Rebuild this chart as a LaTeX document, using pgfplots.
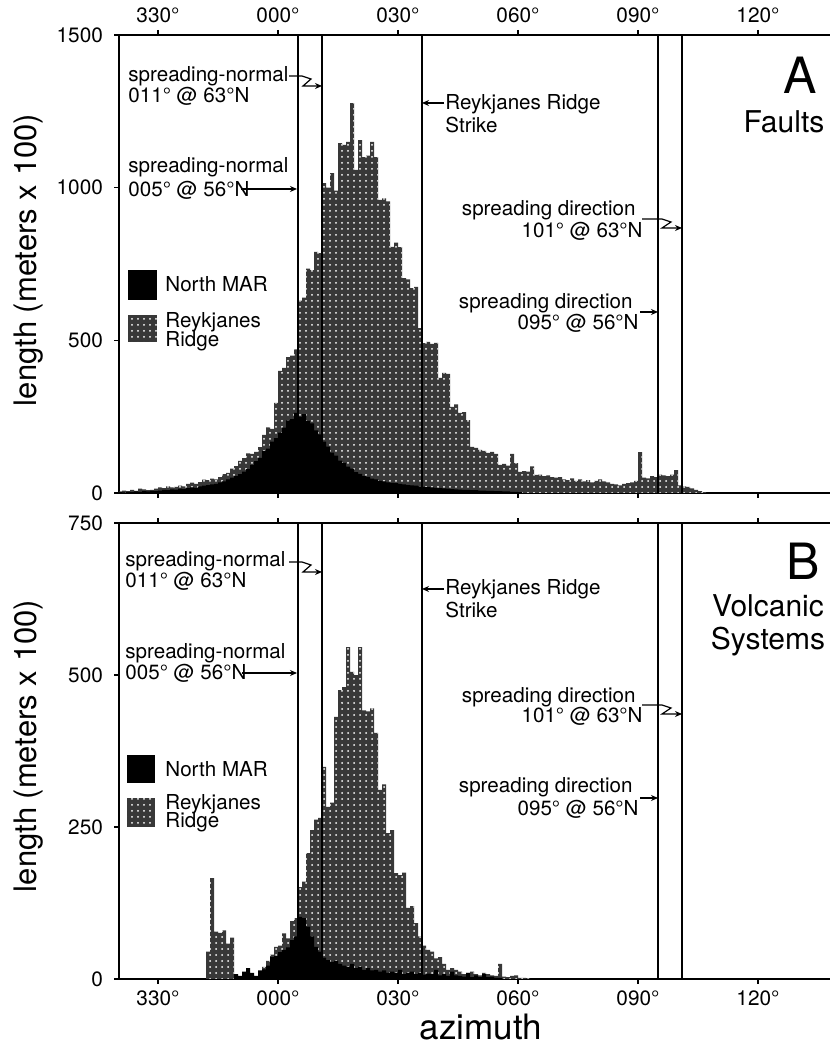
\documentclass[border=0pt]{standalone}
\usepackage{fontspec}
\setmainfont{TeX Gyre Heros}
\usepackage{pgfplots}
\pgfplotsset{compat=1.18}
\usetikzlibrary{patterns,arrows.meta}

% 1 px of the reference = 0.5pt; histogram bins are 1 degree, value at the bin's left edge
\pgfplotsset{
  panel/.style={
    scale only axis, width=356.5pt,
    xmin=-39.75, xmax=138.5, ymin=0,
    xtick={-30,0,30,60,90,120},
    xticklabels={330°,000°,030°,060°,090°,120°},
    tick align=outside, major tick length=2.5pt,
    ytick pos=left,
    axis line style={line width=0.8pt},
    every tick/.style={black, line width=0.7pt},
    ticklabel style={font=\fontsize{10.4}{12}\selectfont},
    yticklabel style={xshift=-2pt},
    /pgf/number format/assume math mode=true,
    /pgf/number format/1000 sep={},
  },
  rr/.style={const plot, draw=none, fill=black!78, postaction={pattern=dots, pattern color=white}},
  nm/.style={const plot, draw=none, fill=black},
}
\tikzset{refline/.style={line width=0.6pt}}

\begin{document}
\begin{tikzpicture}
\useasboundingbox (0,0) rectangle (415pt,522.5pt);

% ---------------- A: faults
\begin{axis}[panel, at={(59.5pt,276pt)}, anchor=south west, height=229pt,
  ymax=1500, ytick={0,500,1000,1500}, xticklabel pos=upper]
\addplot[rr] coordinates {
(-40,5) (-39,8) (-38,6) (-37,10) (-36,7) (-35,14) (-34,12) (-33,9) (-32,10) (-31,14)
(-30,18) (-29,16) (-28,22) (-27,18) (-26,20) (-25,24) (-24,22) (-23,30) (-22,34) (-21,30)
(-20,36) (-19,44) (-18,42) (-17,47) (-16,45) (-15,52) (-14,62) (-13,66) (-12,80) (-11,88)
(-10,105) (-9,114) (-8,130) (-7,128) (-6,135) (-5,150) (-4,190) (-3,215) (-2,210) (-1,295)
(0,400) (1,410) (2,445) (3,450) (4,470) (5,630) (6,640) (7,735) (8,730) (9,790)
(10,786) (11,1015) (12,1000) (13,1048) (14,990) (15,1146) (16,1140) (17,1150) (18,1277) (19,1058)
(20,1156) (21,1100) (22,1105) (23,1150) (24,1100) (25,960) (26,965) (27,955) (28,806) (29,820)
(30,805) (31,704) (32,700) (33,671) (34,675) (35,540) (36,491) (37,495) (38,488) (39,492)
(40,377) (41,393) (42,390) (43,282) (44,290) (45,262) (46,265) (47,239) (48,151) (49,148)
(50,141) (51,138) (52,131) (53,135) (54,128) (55,92) (56,95) (57,90) (58,128) (59,98)
(60,69) (61,72) (62,70) (63,87) (64,59) (65,60) (66,55) (67,58) (68,52) (69,50)
(70,52) (71,45) (72,42) (73,48) (74,40) (75,45) (76,38) (77,42) (78,35) (79,40)
(80,45) (81,38) (82,35) (83,30) (84,28) (85,25) (86,30) (87,32) (88,35) (89,40)
(90,134) (91,50) (92,48) (93,55) (94,52) (95,60) (96,58) (97,55) (98,60) (99,75)
(100,25) (101,22) (102,20) (103,15) (104,10) (105,6) (106,3) (107,0)
} \closedcycle;
\addplot[nm] coordinates {
(-40,3) (-39,2) (-38,4) (-37,3) (-36,5) (-35,4) (-34,6) (-33,5) (-32,7) (-31,6)
(-30,8) (-29,10) (-28,9) (-27,12) (-26,11) (-25,14) (-24,13) (-23,16) (-22,18) (-21,17)
(-20,22) (-19,24) (-18,26) (-17,28) (-16,30) (-15,35) (-14,38) (-13,45) (-12,50) (-11,55)
(-10,62) (-9,70) (-8,78) (-7,92) (-6,104) (-5,115) (-4,138) (-3,145) (-2,168) (-1,180)
(0,198) (1,214) (2,238) (3,242) (4,262) (5,250) (6,258) (7,236) (8,228) (9,205)
(10,192) (11,168) (12,152) (13,132) (14,122) (15,106) (16,99) (17,86) (18,80) (19,68)
(20,63) (21,55) (22,53) (23,47) (24,45) (25,40) (26,38) (27,35) (28,33) (29,32)
(30,30) (31,28) (32,26) (33,25) (34,24) (35,22) (36,20) (37,19) (38,18) (39,17)
(40,16) (41,15) (42,14) (43,13) (44,12) (45,11) (46,10) (47,10) (48,9) (49,9)
(50,8) (51,8) (52,7) (53,7) (54,6) (55,6) (56,5) (57,5) (58,4) (59,4) (60,3) (61,0)
} \closedcycle;
\draw[refline] (5,0) -- (5,1500);
\draw[refline] (11,0) -- (11,1500);
\draw[refline] (36,0) -- (36,1500);
\draw[refline] (95,0) -- (95,1500);
\draw[refline] (101,0) -- (101,1500);
\end{axis}

% ---------------- B: volcanic systems
\begin{axis}[panel, at={(59.5pt,33pt)}, anchor=south west, height=228pt,
  ymax=750, ytick={0,250,500,750}, xticklabel pos=lower]
\addplot[rr] coordinates {
(-18,45) (-17,166) (-16,78) (-15,76) (-14,80) (-13,58) (-12,68) (-11,0) (-10,0) (-9,0)
(-8,0) (-7,0) (-6,0) (-5,0) (-4,20) (-3,30) (-2,40) (-1,53) (0,55) (1,75)
(2,67) (3,95) (4,100) (5,151) (6,160) (7,207) (8,245) (9,262) (10,265) (11,349)
(12,283) (13,290) (14,431) (15,475) (16,480) (17,546) (18,505) (19,500) (20,546) (21,442)
(22,440) (23,445) (24,405) (25,311) (26,320) (27,240) (28,245) (29,174) (30,171) (31,175)
(32,117) (33,120) (34,92) (35,70) (36,55) (37,48) (38,45) (39,34) (40,36) (41,25)
(42,15) (43,18) (44,15) (45,12) (46,8) (47,10) (48,12) (49,8) (50,6) (51,10)
(52,8) (53,6) (54,5) (55,25) (56,4) (57,3) (58,5) (59,6) (60,2) (61,2) (62,1) (63,0)
} \closedcycle;
\addplot[nm] coordinates {
(-11,8) (-10,5) (-9,12) (-8,18) (-7,10) (-6,5) (-5,14) (-4,16) (-3,22) (-2,36)
(-1,38) (0,44) (1,48) (2,52) (3,64) (4,70) (5,102) (6,100) (7,86) (8,70)
(9,53) (10,45) (11,35) (12,31) (13,28) (14,30) (15,25) (16,22) (17,20) (18,25)
(19,18) (20,20) (21,15) (22,18) (23,14) (24,15) (25,12) (26,14) (27,10) (28,12)
(29,10) (30,15) (31,8) (32,10) (33,12) (34,8) (35,10) (36,7) (37,9) (38,8)
(39,15) (40,6) (41,8) (42,5) (43,12) (44,6) (45,5) (46,4) (47,10) (48,3)
(49,6) (50,3) (51,8) (52,3) (53,4) (54,2) (55,2) (56,0)
} \closedcycle;
\draw[refline] (5,0) -- (5,750);
\draw[refline] (11,0) -- (11,750);
\draw[refline] (36,0) -- (36,750);
\draw[refline] (95,0) -- (95,750);
\draw[refline] (101,0) -- (101,750);
\end{axis}

% ---------------- labels and notes, in reference pixels (origin top left)
\begin{scope}[yshift=522.5pt, x=0.5pt, y=-0.5pt,
  every node/.style={inner sep=0pt}, font=\fontsize{10.3}{12}\selectfont]
\tikzset{lead/.style={line width=0.6pt, -{Stealth[length=3.5pt,width=3pt]}}}

\node[rotate=90, font=\fontsize{15.5}{18}\selectfont] at (29,260) {length (meters x 100)};
\node[rotate=90, font=\fontsize{15.5}{18}\selectfont] at (29,746) {length (meters x 100)};
\node[anchor=base, font=\fontsize{17.5}{20}\selectfont] at (481,1040) {azimuth};

% panel A
\node[anchor=base west] at (128,82) {spreading-normal};
\node[anchor=base west] at (128,103) {011° @ 63°N};
\draw[lead] (289,76) -- (302,76) -- (311,79) -- (303,86) -- (322,86);
\node[anchor=base west] at (128,173) {spreading-normal};
\node[anchor=base west] at (128,197) {005° @ 56°N};
\draw[lead] (241,189) -- (297,189);
\node[anchor=base west] at (445,110) {Reykjanes Ridge};
\node[anchor=base west] at (445,133) {Strike};
\draw[lead] (444,103) -- (422,103);
\node[anchor=base east] at (636,216) {spreading direction};
\node[anchor=base east] at (643,238) {101° @ 63°N};
\draw[lead] (642,219) -- (662,219) -- (671,222) -- (662,228) -- (682,228);
\node[anchor=base east] at (633,309) {spreading direction};
\node[anchor=base east] at (639,330) {095° @ 56°N};
\draw[lead] (640,312) -- (658,312);
\node[anchor=base, font=\fontsize{25}{28}\selectfont] at (800,94) {A};
\node[anchor=base, font=\fontsize{15}{17}\selectfont] at (784,133) {Faults};
\fill[black] (128,270) rectangle (157,300);
\node[anchor=base west] at (165,292) {North MAR};
\fill[black!78, postaction={pattern=dots, pattern color=white}] (128,315) rectangle (157,342);
\node[anchor=base west] at (165,328) {Reykjanes};
\node[anchor=base west] at (165,347) {Ridge};

% panel B
\node[anchor=base west] at (125,567) {spreading-normal};
\node[anchor=base west] at (125,588) {011° @ 63°N};
\draw[lead] (289,562) -- (302,562) -- (311,565) -- (303,572) -- (322,572);
\node[anchor=base west] at (125,659) {spreading-normal};
\node[anchor=base west] at (125,680) {005° @ 56°N};
\draw[lead] (242,673) -- (297,673);
\node[anchor=base west] at (445,595) {Reykjanes Ridge};
\node[anchor=base west] at (445,618) {Strike};
\draw[lead] (444,589) -- (422,589);
\node[anchor=base east] at (636,703) {spreading direction};
\node[anchor=base east] at (643,723) {101° @ 63°N};
\draw[lead] (642,705) -- (662,705) -- (671,708) -- (662,714) -- (682,714);
\node[anchor=base east] at (633,793) {spreading direction};
\node[anchor=base east] at (639,816) {095° @ 56°N};
\draw[lead] (640,798) -- (658,798);
\node[anchor=base, font=\fontsize{25}{28}\selectfont] at (803,580) {B};
\node[anchor=base, font=\fontsize{15}{17}\selectfont] at (768,617) {Volcanic};
\node[anchor=base, font=\fontsize{15}{17}\selectfont] at (768,650) {Systems};
\fill[black] (127,755) rectangle (155,783);
\node[anchor=base west] at (165,777) {North MAR};
\fill[black!78, postaction={pattern=dots, pattern color=white}] (127,798) rectangle (155,827);
\node[anchor=base west] at (165,810) {Reykjanes};
\node[anchor=base west] at (165,828) {Ridge};
\end{scope}
\end{tikzpicture}
\end{document}
